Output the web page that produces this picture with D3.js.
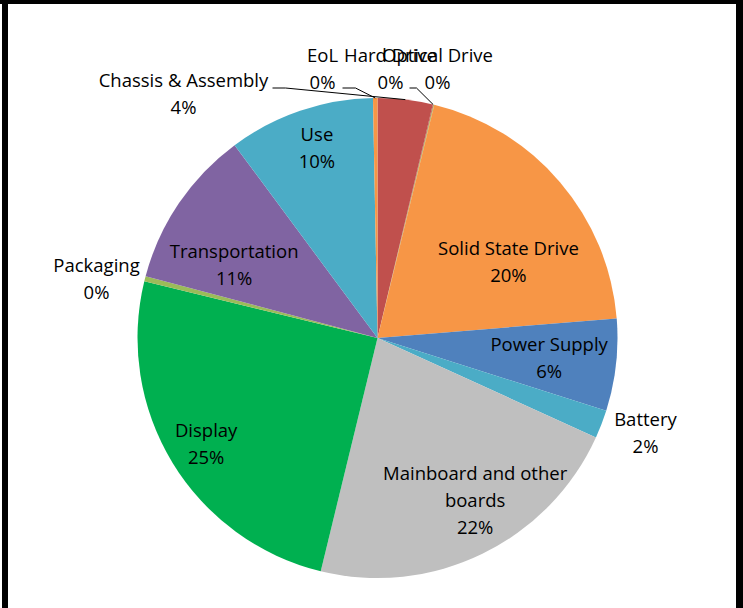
<!DOCTYPE html>
<html>
<head>
<meta charset="utf-8">
<script src="https://cdn.jsdelivr.net/npm/d3@7"></script>
<style>
  body { margin: 0; background: #fff; }
  text { font-family: "Open Sans", sans-serif; font-size: 18.5px; fill: #000; }
</style>
</head>
<body>
<div class="chart"></div>
<script>
// slices clockwise from 12 o'clock
var categories = ['Chassis & Assembly', 'Hard Drive', 'Optical Drive', 'Solid State Drive',
  'Power Supply', 'Battery', 'Mainboard and other boards', 'Display', 'Packaging',
  'Transportation', 'Use', 'EoL'];
var values = [3.7, 0.05, 0.05, 19.9, 6.2, 1.9, 22.0, 25.0, 0.35, 10.7, 9.85, 0.3];
var pctLabels = ['4%', '0%', '0%', '20%', '6%', '2%', '22%', '25%', '0%', '11%', '10%', '0%'];
var colors = ['#C0504D', '#C0504D', '#9BBB59', '#F79646', '#4F81BD', '#4BACC6',
  '#BFBFBF', '#00B050', '#9BBB59', '#8064A2', '#4BACC6', '#F79646'];

// label layout: name lines, polar position (deg, fraction of radius) or outside offset
var labelLayout = [
  {lines: ['Chassis & Assembly'], pos: [-194, -243.5], lead: [[-105, -250], [-92, -250]]},
  {lines: ['Hard Drive'], pos: [13, -269], lead: [[32, -250], [39, -250]]},
  {lines: ['Optical Drive'], pos: [60, -269]},
  {lines: ['Solid State Drive'], a: 60, r: 0.63},
  {lines: ['Power Supply'], a: 96.7, r: 0.72},
  {lines: ['Battery'], pos: [268, 95.5]},
  {lines: ['Mainboard and other', 'boards'], a: 149, r: 0.79},
  {lines: ['Display'], a: 238.2, r: 0.84},
  {lines: ['Packaging'], pos: [-281, -58.5]},
  {lines: ['Transportation'], a: 296.9, r: 0.67},
  {lines: ['Use'], a: 342.3, r: 0.83},
  {lines: ['EoL'], pos: [-55, -269], lead: [[-35, -250], [-22, -250]]}
];

var width = 743, height = 608;
var cx = 377.5, cy = 338, radius = 240;
var lineH = 27;

var svg = d3.select('.chart')
  .append('svg')
    .attr('width', width)
    .attr('height', height);

svg.append('rect').attr('width', width).attr('height', height).attr('fill', '#fff');

var g = svg.append('g')
  .attr('transform', `translate(${cx}, ${cy})`);

var pie = d3.pie().sort(null).value(d => d);
var arcs = pie(values);
var arc = d3.arc().innerRadius(0).outerRadius(radius);

g.selectAll('path.slice')
  .data(arcs)
  .enter()
  .append('path')
    .attr('class', 'slice')
    .attr('d', arc)
    .attr('fill', (d, i) => colors[i]);

function polar(deg, r) {
  var a = deg * Math.PI / 180;
  return [Math.sin(a) * r, -Math.cos(a) * r];
}

// leader lines for small slices
arcs.forEach(function (d, i) {
  var L = labelLayout[i];
  if (!L.lead) return;
  var mid = (d.startAngle + d.endAngle) / 2 * 180 / Math.PI;
  var end = polar(mid, radius);
  var pts = L.lead.concat([end]);
  g.append('path')
    .attr('d', d3.line()(pts))
    .attr('fill', 'none')
    .attr('stroke', '#000')
    .attr('stroke-width', 1);
});

// labels
arcs.forEach(function (d, i) {
  var L = labelLayout[i];
  var p = L.pos ? L.pos : polar(L.a, radius * L.r);
  var lines = L.lines.concat([pctLabels[i]]);
  var top = p[1] - (lines.length - 1) * lineH / 2;
  var t = g.append('text')
    .attr('text-anchor', 'middle');
  lines.forEach(function (s, k) {
    t.append('tspan')
      .attr('x', p[0])
      .attr('y', top + k * lineH)
      .attr('dy', '0.35em')
      .text(s);
  });
});

// black frame
svg.append('rect').attr('x', 0).attr('y', 0).attr('width', width).attr('height', 4).attr('fill', '#000');
svg.append('rect').attr('x', 2).attr('y', 0).attr('width', 6).attr('height', height).attr('fill', '#000');
svg.append('rect').attr('x', 736).attr('y', 0).attr('width', 7).attr('height', height).attr('fill', '#000');
</script>
</body>
</html>
